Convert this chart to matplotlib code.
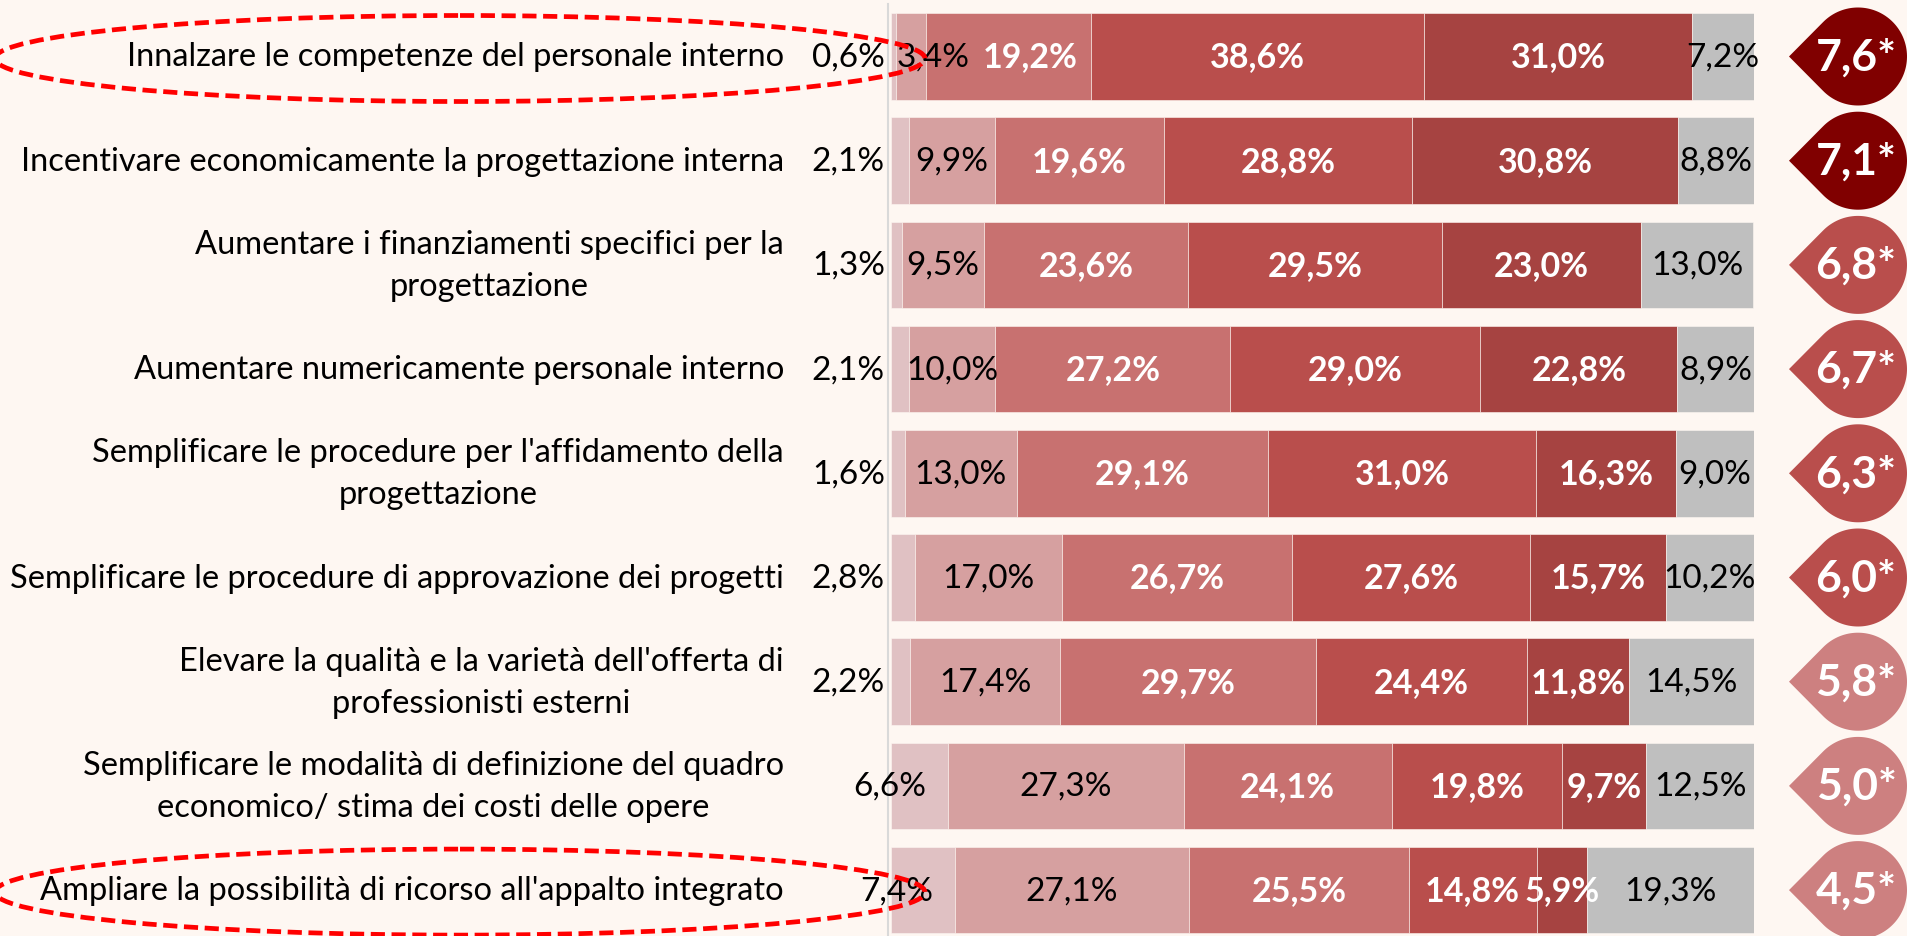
import numpy as np
import matplotlib.pyplot as plt
from matplotlib.patches import Polygon, Ellipse

plt.rcParams['font.family'] = ['Lato', 'DejaVu Sans']

labels = [
    "Innalzare le competenze del personale interno",
    "Incentivare economicamente la progettazione interna",
    "Aumentare i finanziamenti specifici per la\nprogettazione",
    "Aumentare numericamente personale interno",
    "Semplificare le procedure per l'affidamento della\nprogettazione",
    "Semplificare le procedure di approvazione dei progetti",
    "Elevare la qualità e la varietà dell'offerta di\nprofessionisti esterni",
    "Semplificare le modalità di definizione del quadro\neconomico/ stima dei costi delle opere",
    "Ampliare la possibilità di ricorso all'appalto integrato",
]
v1 = [0.6, 2.1, 1.3, 2.1, 1.6, 2.8, 2.2, 6.6, 7.4]
v2 = [3.4, 9.9, 9.5, 10.0, 13.0, 17.0, 17.4, 27.3, 27.1]
v3 = [19.2, 19.6, 23.6, 27.2, 29.1, 26.7, 29.7, 24.1, 25.5]
v4 = [38.6, 28.8, 29.5, 29.0, 31.0, 27.6, 24.4, 19.8, 14.8]
v5 = [31.0, 30.8, 23.0, 22.8, 16.3, 15.7, 11.8, 9.7, 5.9]
v6 = [7.2, 8.8, 13.0, 8.9, 9.0, 10.2, 14.5, 12.5, 19.3]
scores = [7.6, 7.1, 6.8, 6.7, 6.3, 6.0, 5.8, 5.0, 4.5]
circled = [0, 8]

seg_colors = ['#E0C1C3', '#D6A0A0', '#C87170', '#B94E4C', '#A64341', '#BFBFBF']
txt_colors = ['black', 'black', 'white', 'white', 'white', 'black']
bg = '#FEF7F2'
W, H = 1907, 937


def fmt(v):
    return f"{v:.1f}".replace('.', ',') + '%'


fig = plt.figure(figsize=(W / 100, H / 100), dpi=100, facecolor=bg)

# main bar axes: x in percent, y in rows
row_px = 104.2
y_top = -57.5 / row_px
y_bot = y_top + H / row_px
ax = fig.add_axes([891 / W, 0, 863 / W, 1])
ax.patch.set_alpha(0)
ax.set_xlim(0, 100)
ax.set_ylim(y_bot, y_top)
ax.axis('off')

rows = np.arange(len(labels))
series = [v1, v2, v3, v4, v5, v6]
left = np.zeros(len(labels))
for k, vals in enumerate(series):
    vals = np.array(vals)
    ax.barh(rows, vals, left=left, height=0.83, color=seg_colors[k],
            edgecolor=bg, linewidth=0.4)
    for i, v in enumerate(vals):
        bold = txt_colors[k] == 'white'
        if k == 0:
            if v < 5:
                x, ha = -0.7, 'right'
            else:
                x, ha = left[i] + v - 2.5, 'right'
        elif k == 1 and v < 5:
            x, ha = left[i], 'left'
        elif k == 2 and series[1][i] < 5:
            # squeezed next to the small label before it
            x, ha = left[i] + 6.6, 'left'
        else:
            x, ha = left[i] + v / 2, 'center'
        ax.text(x, i, fmt(v), ha=ha, va='center', fontsize=24.5 if bold else 24,
                color=txt_colors[k], fontweight='bold' if bold else 'normal',
                clip_on=False)
    left += vals

ax.axvline(-0.3, color='#D9D9D9', linewidth=1.5, ymin=0, ymax=0.995, clip_on=False)

for i, lab in enumerate(labels):
    ax.text(-12.4, i, lab, ha='right', va='center', fontsize=23.5,
            multialignment='center', linespacing=1.5, clip_on=False)

# overlay axes in figure pixels for markers and highlight ellipses
ov = fig.add_axes([0, 0, 1, 1])
ov.set_xlim(0, W)
ov.set_ylim(H, 0)
ov.axis('off')
ov.patch.set_alpha(0)


def row_y(i):
    # pixel y (from top) of row i in the main axes
    return (i - y_top) * row_px


r, d, cx = 49, 69, 1858
a = np.arccos(r / d)
th = np.linspace(-(np.pi - a), np.pi - a, 120)
for i, s in enumerate(scores):
    cy = row_y(i)
    if s >= 7:
        col = '#800000'
    elif s >= 6:
        col = '#B94E4C'
    else:
        col = '#CD8080'
    pts = np.column_stack([cx + r * np.cos(th), cy + r * np.sin(th)])
    pts = np.vstack([pts, [cx - d, cy]])
    ov.add_patch(Polygon(pts, closed=True, facecolor=col, edgecolor='none'))
    ov.text(cx - 2, cy, f"{s:.1f}".replace('.', ',') + '*', ha='center',
            va='center', fontsize=32, fontweight='bold', color='white')

for i in circled:
    ov.add_patch(Ellipse((460, row_y(i) + 2), 930, 86, fill=False,
                         edgecolor='#FF0000', linewidth=3.4, linestyle=(0, (3, 1.4))))

fig.savefig('out.png', dpi=100, facecolor=bg)
